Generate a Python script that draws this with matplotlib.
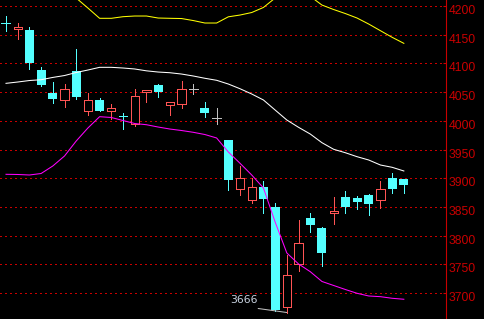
import matplotlib
matplotlib.use('Agg')
import matplotlib.pyplot as plt
import matplotlib.transforms as mtransforms
from matplotlib.patches import Rectangle

# daily candles (oldest first)
OPEN = [4170.5, 4160.5, 4158, 4088, 4048, 4036, 4086, 4017, 4036, 4016.5,
        4008.8, 3995, 4050, 4062, 4027, 4029, 4056, 4022, 4005.5, 3967,
        3882, 3862.5, 3885, 3850, 3675, 3750, 3830, 3813, 3839, 3867,
        3865, 3870, 3861.5, 3900, 3898]
HIGH = [4182.6, 4170, 4163, 4094, 4067.6, 4064, 4125, 4048, 4040, 4029,
        4013, 4055, 4053, 4064, 4033, 4069, 4064, 4033, 4021.7, 3967,
        3921, 3900, 3895, 3857, 3765.6, 3826.7, 3839, 3815, 3866.7, 3877,
        3868.5, 3872, 3894.6, 3908.6, 3898]
LOW = [4157, 4143, 4090, 4061, 4031, 4024.5, 4038.5, 4010.6, 4017, 4004,
       3986, 3991.5, 4033, 4042, 4011, 4023, 4047, 4007, 3995, 3880,
       3871, 3857, 3840, 3669, 3666, 3738, 3807, 3747.6, 3821, 3840,
       3845.6, 3835.4, 3847.6, 3873.7, 3873.7]
CLOSE = [4169.2, 4164, 4101, 4062, 4038, 4055, 4042, 4037, 4017, 4022,
         4008, 4043, 4053, 4050, 4032, 4055, 4056, 4014, 4005.5, 3897,
         3900, 3885, 3864, 3670, 3731, 3787, 3819, 3769, 3842, 3849,
         3859, 3854.5, 3880.6, 3881, 3889]

# bollinger style bands
BOLL_MID = [4065.3, 4067.6, 4070.2, 4071.6, 4075.6, 4078.9, 4084.2, 4088.5, 4093.2, 4093.2,
            4092.0, 4090.3, 4087.1, 4085.0, 4083.8, 4081.5, 4078.1, 4074.1, 4070.6, 4064.1,
            4055.9, 4046.7, 4036.3, 4018.8, 4001.4, 3988.7, 3977.0, 3961.9, 3950.4, 3944.4,
            3937.5, 3931.7, 3923.0, 3919.0, 3912.6]
BOLL_UP = [4223.9, 4228.7, 4234.8, 4234.8, 4229.6, 4219.2, 4213.9, 4196.5, 4178.6, 4178.6,
           4181.4, 4182.6, 4182.6, 4179.1, 4178.6, 4178.2, 4174.7, 4170.4, 4170.4, 4181.2,
           4184.3, 4188.7, 4197.5, 4213.9, 4233.1, 4226.8, 4216.9, 4201.7, 4193.9, 4186.9,
           4179.1, 4168.6, 4157.0, 4145.5, 4135.0]
BOLL_LOW = [3906.8, 3906.5, 3905.6, 3908.2, 3921.3, 3938.7, 3964.8, 3987.5, 4007.2, 4005.8,
            4000.5, 3995.3, 3993.2, 3989.2, 3985.7, 3983.1, 3980.0, 3976.1, 3970.1, 3945.7,
            3926.0, 3905.6, 3883.0, 3823.7, 3769.7, 3750.6, 3737.2, 3720.1, 3713.1, 3706.1,
            3699.5, 3694.8, 3693.6, 3690.8, 3689.1]

Y_TICKS = [3700, 3750, 3800, 3850, 3900, 3950, 4000, 4050, 4100, 4150, 4200]
LOW_LABEL = '3666'

UP_COLOR = '#ff5454'
DOWN_COLOR = '#54ffff'
FLAT_COLOR = '#c0c0c0'
AXIS_RED = '#c80000'
LW = 0.6   # ~1 px without antialiasing

fig = plt.figure(figsize=(4.84, 3.19), dpi=100, facecolor='black')
ax = fig.add_axes([0, 0, 445.5 / 484, 1], facecolor='black')

for y in Y_TICKS:
    ax.axhline(y, color=AXIS_RED, lw=0.75, ls=(0, (1, 3.2)), zorder=1,
               antialiased=False)

body_w = 0.7
for i, (o, h, l, c) in enumerate(zip(OPEN, HIGH, LOW, CLOSE)):
    if c > o:
        col = UP_COLOR
    elif c < o:
        col = DOWN_COLOR
    else:
        col = FLAT_COLOR
    ax.vlines(i, l, h, color=col, lw=LW, zorder=2, antialiased=False)
    if abs(c - o) < 1.2:
        ax.hlines((o + c) / 2, i - 0.38, i + 0.38, color=col, lw=LW, zorder=3,
                  antialiased=False)
    elif c > o:
        ax.add_patch(Rectangle((i - body_w / 2, o), body_w, c - o, facecolor='black',
                               edgecolor=col, lw=LW, zorder=3, antialiased=False))
    else:
        ax.add_patch(Rectangle((i - 0.385, c), 0.77, o - c, facecolor=col,
                               edgecolor='none', zorder=3, antialiased=False))

x = range(len(BOLL_MID))
ax.plot(x, BOLL_MID, color='white', lw=0.75, zorder=4)
ax.plot(x, BOLL_UP, color='#ffff00', lw=0.75, zorder=4)
ax.plot(x, BOLL_LOW, color='#ff00ff', lw=0.75, zorder=4)

# lowest point marker
low_i = LOW.index(min(LOW))
ax.annotate('', xy=(low_i, min(LOW)), xytext=(21.55, 3673),
            arrowprops=dict(arrowstyle='-', color='#c0c0c0', lw=0.75,
                            shrinkA=0, shrinkB=0), zorder=5)
ax.text(20.3, 3688, LOW_LABEL, color='#c8d2e0', fontsize=7.8,
        family='DejaVu Sans', ha='center', va='center', zorder=5)

ax.set_xlim(-0.513, 37.56)
ax.set_ylim(3654.7, 4210.5)

for side in ['left', 'top', 'bottom']:
    ax.spines[side].set_visible(False)
ax.spines['right'].set_color(AXIS_RED)
ax.spines['right'].set_linewidth(0.8)
ax.set_xticks([])
ax.yaxis.tick_right()
ax.set_yticks(Y_TICKS)
ax.tick_params(axis='y', direction='in', length=2.5, width=0.8, color=AXIS_RED,
               labelcolor=AXIS_RED, pad=2.5, labelsize=8.8)
offset = mtransforms.ScaledTranslation(0, -3.5 / 100, fig.dpi_scale_trans)
for lab in ax.get_yticklabels():
    lab.set_family('Liberation Sans')
    lab.set_transform(lab.get_transform() + offset)

fig.savefig('out.png', dpi=100, facecolor='black')
